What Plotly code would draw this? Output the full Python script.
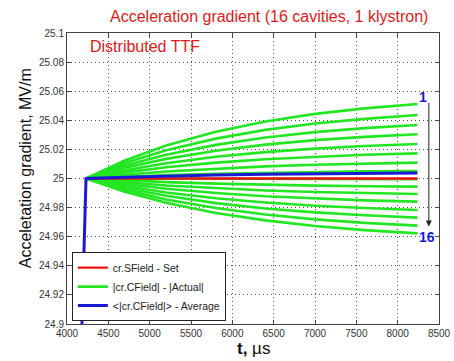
import plotly.graph_objects as go

# time samples (µs)
t_actual = [4230, 4700, 5200, 5800, 6400, 7000, 7600, 8240]

# |Actual| gradient of each of the 16 cavities, MV/m
cav_01 = [25.0, 25.0124, 25.0227, 25.0322, 25.0392, 25.0444, 25.0482, 25.0512]
cav_02 = [25.0, 25.0106, 25.0194, 25.0274, 25.0334, 25.0378, 25.0410, 25.0436]
cav_03 = [25.0, 25.0089, 25.0163, 25.0231, 25.0282, 25.0319, 25.0346, 25.0368]
cav_04 = [25.0, 25.0074, 25.0135, 25.0191, 25.0233, 25.0264, 25.0286, 25.0304]
cav_05 = [25.0, 25.0057, 25.0105, 25.0149, 25.0181, 25.0205, 25.0223, 25.0237]
cav_06 = [25.0, 25.0042, 25.0077, 25.0109, 25.0132, 25.0150, 25.0163, 25.0173]
cav_07 = [25.0, 25.0026, 25.0048, 25.0068, 25.0083, 25.0095, 25.0103, 25.0109]
cav_08 = [25.0, 25.0013, 25.0023, 25.0033, 25.0040, 25.0045, 25.0049, 25.0052]
cav_09 = [25.0, 24.9999, 24.9998, 24.9997, 24.9996, 24.9996, 24.9995, 24.9995]
cav_10 = [25.0, 24.9986, 24.9975, 24.9965, 24.9957, 24.9951, 24.9947, 24.9944]
cav_11 = [25.0, 24.9974, 24.9952, 24.9933, 24.9918, 24.9907, 24.9899, 24.9893]
cav_12 = [25.0, 24.9962, 24.9929, 24.9900, 24.9878, 24.9862, 24.9850, 24.9841]
cav_13 = [25.0, 24.9948, 24.9904, 24.9864, 24.9835, 24.9813, 24.9797, 24.9784]
cav_14 = [25.0, 24.9935, 24.9881, 24.9831, 24.9794, 24.9767, 24.9747, 24.9731]
cav_15 = [25.0, 24.9922, 24.9856, 24.9797, 24.9752, 24.9719, 24.9695, 24.9676]
cav_16 = [25.0, 24.9909, 24.9833, 24.9763, 24.9712, 24.9673, 24.9645, 24.9623]
cavities = [cav_01, cav_02, cav_03, cav_04, cav_05, cav_06, cav_07, cav_08,
            cav_09, cav_10, cav_11, cav_12, cav_13, cav_14, cav_15, cav_16]

# set point
t_set = [4230, 8240]
set_field = [25.0, 25.0]

# average of the cavities (with the fill ramp)
t_avg = [4176, 4230, 4700, 5200, 5800, 6400, 7000, 7600, 8240]
avg_field = [24.89, 25.0, 25.0009, 25.0017, 25.0024, 25.0029, 25.0033, 25.0036, 25.0038]

x_ticks = [4000, 4500, 5000, 5500, 6000, 6500, 7000, 7500, 8000, 8500]
y_ticks = [24.9, 24.92, 24.94, 24.96, 24.98, 25.0, 25.02, 25.04, 25.06, 25.08, 25.1]
y_tick_text = ["24.9", "24.92", "24.94", "24.96", "24.98", "25", "25.02", "25.04", "25.06", "25.08", "25.1"]

fig = go.Figure()
for i, cav in enumerate(cavities):
    fig.add_trace(go.Scatter(
        x=t_actual, y=cav, mode="lines",
        line=dict(color="#22e622", width=2.6),
        name="|cr.CField| - |Actual|", legendgroup="act",
        showlegend=(i == 0), legendrank=2))
fig.add_trace(go.Scatter(x=t_set, y=set_field, mode="lines",
                         line=dict(color="#ee1111", width=2.4),
                         name="cr.SField - Set", legendrank=1))
fig.add_trace(go.Scatter(x=t_avg, y=avg_field, mode="lines",
                         line=dict(color="#1a1ad6", width=3),
                         name="<|cr.CField|> - Average", legendrank=3))

axis_common = dict(showline=True, linecolor="#444", linewidth=1, mirror="ticks",
                   ticks="inside", ticklen=4, tickcolor="#444", automargin=False,
                   showgrid=True, gridcolor="rgba(0,0,0,0.7)", gridwidth=1, griddash="1px,3px",
                   zeroline=False, tickfont=dict(family="Liberation Sans, Arial", size=10, color="#333"))

fig.update_xaxes(range=[4000, 8500], tickvals=x_ticks, **axis_common)
fig.update_yaxes(range=[24.9, 25.1], tickvals=y_ticks, ticktext=y_tick_text, **axis_common)

fig.update_layout(
    width=454, height=361,
    margin=dict(l=67, r=15, t=33, b=37, autoexpand=False),
    paper_bgcolor="white", plot_bgcolor="white",
    font=dict(family="Liberation Sans, Arial"),
    legend=dict(x=0.013, y=0.01, xanchor="left", yanchor="bottom",
                bgcolor="white", bordercolor="#222", borderwidth=1,
                font=dict(size=10.5, color="#222"), tracegroupgap=0,
                itemwidth=30),
    showlegend=True,
)

fig.add_annotation(text="Acceleration gradient (16 cavities, 1 klystron)",
                   xref="paper", yref="paper", x=0.542, y=1.0, yshift=17,
                   xanchor="center", yanchor="middle",
                   showarrow=False, font=dict(size=16, color="#e01818"))
fig.add_annotation(text="Distributed TTF", xref="paper", yref="paper",
                   x=0.057, y=0.955, xanchor="left", yanchor="middle",
                   showarrow=False, font=dict(size=16, color="#e01818"))
fig.add_annotation(text="Acceletation gradient, MV/m", xref="paper", yref="paper",
                   x=-0.113, y=0.535, xanchor="center", yanchor="middle",
                   textangle=-90, showarrow=False,
                   font=dict(size=16, color="#111"))
fig.add_annotation(text="<b>t,</b> µs", xref="paper", yref="paper",
                   x=0.5, y=0, yshift=-24, xanchor="center", yanchor="middle",
                   showarrow=False, font=dict(size=17, color="#111"))

# arrow and labels for cavity 1 .. 16
fig.add_annotation(x=8377, y=24.967, ax=8377, ay=25.053, xref="x", yref="y",
                   axref="x", ayref="y", text="", showarrow=True,
                   arrowhead=2, arrowsize=1.2, arrowwidth=1, arrowcolor="#222")
fig.add_annotation(x=8305, y=25.056, text="<b>1</b>", showarrow=False,
                   font=dict(size=14, color="#1a1ad6"))
fig.add_annotation(x=8353, y=24.9595, text="<b>16</b>", showarrow=False,
                   font=dict(size=14, color="#1a1ad6"))

fig.write_html("out.html")
